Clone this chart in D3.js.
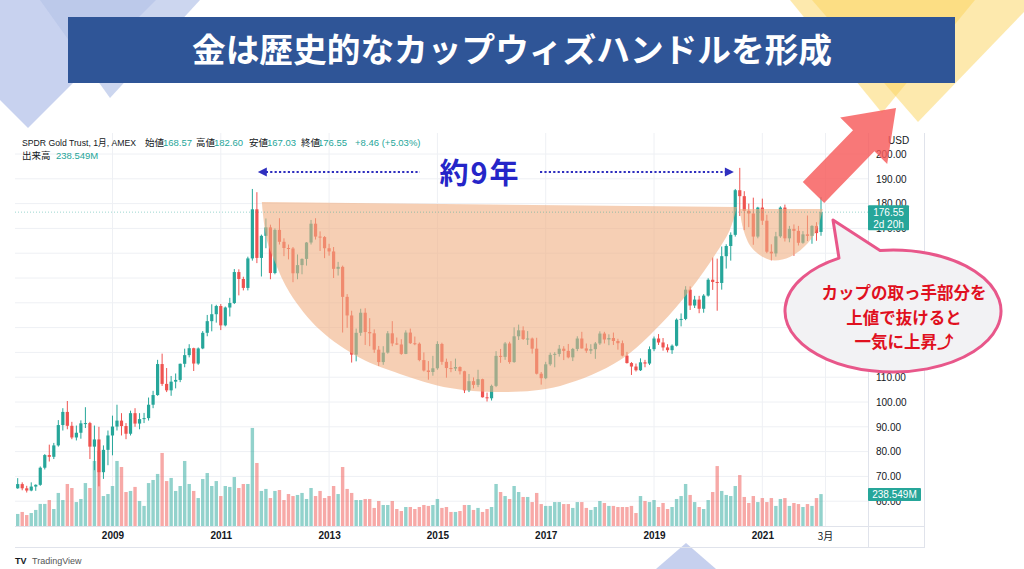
<!DOCTYPE html>
<html><head><meta charset="utf-8">
<script src="https://cdn.jsdelivr.net/npm/d3@7"></script>
<style>
body{margin:0;background:#fff;}
svg{display:block;font-family:"Noto Sans CJK JP","Noto Sans",sans-serif;}
</style></head>
<body><svg id="c" width="1024" height="569"></svg>
<script>
// ---- data (monthly GLD candles, Apr 2007 – Feb 2022) ----
const firstMonth = new Date(2007, 3, 1);
const opens = [65.2,66.9,65.2,64.3,65.9,66.6,73.5,78.6,77.9,82.5,90.7,96.0,90.4,85.7,87.6,91.4,91.5,82.0,84.9,71.7,80.7,86.5,90.1,92.5,90.3,87.2,95.5,91.3,93.1,93.5,98.9,102.8,115.3,107.3,104.7,108.2,108.9,115.4,118.9,121.7,115.5,121.6,127.9,132.6,135.4,138.7,130.9,138.1,139.9,152.4,149.6,146.0,157.9,177.7,158.1,167.0,170.4,152.0,169.4,164.6,162.1,161.9,151.9,155.2,157.7,164.3,171.9,166.7,166.5,162.0,160.7,153.7,154.5,142.4,134.9,119.1,127.9,136.0,128.2,127.7,121.1,116.1,119.9,127.7,123.6,123.2,119.4,128.0,123.7,123.5,116.9,112.7,112.1,113.6,123.4,116.2,113.7,113.5,114.1,112.4,104.7,108.4,106.9,109.2,101.9,101.5,106.5,118.6,118.2,123.6,116.1,126.5,128.9,125.4,125.6,121.5,111.4,109.6,115.2,119.0,119.4,121.5,120.6,118.0,121.4,125.6,121.6,120.7,121.3,123.6,127.6,125.2,125.8,124.6,123.7,118.7,115.7,114.3,112.8,116.0,115.5,121.3,125.6,124.0,122.0,120.9,122.7,133.2,133.5,145.3,138.9,141.3,137.6,142.9,149.3,148.4,148.0,158.8,162.9,167.4,185.4,183.0,177.1,176.0,166.7,178.4,173.1,160.6,159.9,166.8,178.4,166.0,169.8,169.0,164.2,167.6,167.0,171.0,168.57];
const highs = [69.3,67.6,66.2,67.6,66.8,74.0,79.0,82.8,83.5,92.7,97.5,100.4,92.0,90.5,92.6,97.9,92.0,90.5,90.0,82.5,88.5,94.5,98.9,95.5,91.5,96.5,97.5,95.5,95.6,101.8,104.5,117.0,119.5,113.7,110.5,111.5,115.5,121.5,123.3,121.9,122.0,128.6,135.1,139.4,139.2,139.5,138.5,142.0,153.6,153.5,150.5,158.6,185.9,184.6,167.5,174.0,171.5,170.0,174.1,166.0,163.5,162.5,159.5,157.9,164.5,173.4,174.1,168.8,166.9,163.8,162.5,156.5,155.0,143.5,136.8,129.6,137.6,137.8,133.8,129.3,122.6,122.5,128.6,132.6,126.0,125.3,128.9,129.6,126.4,124.0,120.0,116.5,118.6,124.5,123.9,117.5,116.5,117.5,114.4,112.6,111.3,109.9,113.0,109.4,103.8,107.0,120.5,121.4,124.2,124.3,130.1,131.2,130.5,128.6,126.0,125.9,112.1,116.2,119.9,120.1,123.0,122.5,123.4,121.8,126.5,128.3,123.6,123.3,124.2,128.5,128.3,127.3,128.0,125.5,124.8,120.2,116.1,115.5,117.6,117.0,122.4,126.4,127.4,125.8,123.3,123.2,133.7,135.7,146.7,146.6,142.8,142.8,143.5,149.9,158.3,157.8,162.7,163.6,168.4,185.9,194.4,185.0,180.0,182.4,178.7,182.0,175.5,163.6,168.6,178.9,179.6,171.0,171.6,171.0,168.9,175.2,171.3,172.5,182.60];
const lows = [65.0,64.4,63.5,64.0,64.2,66.2,72.8,76.0,77.0,82.0,88.5,89.0,85.0,84.5,85.2,89.5,77.0,72.5,66.0,69.0,74.5,78.5,88.5,86.5,85.0,86.5,90.0,89.0,91.5,92.5,97.5,102.5,106.5,104.0,102.5,105.5,108.0,114.0,118.0,112.5,115.0,121.3,126.5,128.5,132.0,129.0,130.5,134.5,139.5,143.0,145.0,145.0,157.0,156.0,150.6,162.0,149.5,151.5,163.5,158.8,157.5,148.3,149.5,151.5,155.0,163.5,165.5,160.9,158.0,159.0,150.0,151.0,128.0,129.9,115.9,116.4,126.7,123.0,122.5,119.8,114.5,115.0,119.5,122.5,123.0,119.0,119.3,123.4,122.9,116.4,112.3,109.0,110.6,113.0,115.0,109.8,112.0,112.5,111.1,103.6,104.0,105.5,106.0,101.8,100.2,100.6,106.0,115.8,117.0,115.4,115.8,125.0,125.0,123.0,119.5,111.1,107.0,109.2,114.6,114.0,118.3,116.9,117.6,116.5,120.5,121.5,119.8,119.4,117.4,123.0,123.6,122.9,123.0,121.1,118.4,115.5,110.9,112.3,112.5,114.0,114.9,120.5,123.0,120.7,120.0,119.4,122.4,130.5,133.0,137.1,137.9,135.8,136.0,142.5,145.2,136.8,145.3,153.8,157.0,166.7,175.0,169.3,170.5,163.4,166.0,171.4,160.0,157.1,158.6,166.2,164.7,164.4,158.9,163.1,163.8,164.9,163.8,165.0,167.03];
const closes = [66.9,65.2,64.3,65.9,66.6,73.5,78.6,77.9,82.5,90.7,96.0,90.4,85.7,87.6,91.4,91.5,82.0,84.9,71.7,80.7,86.5,90.1,92.5,90.3,87.2,95.5,91.3,93.1,93.5,98.9,102.8,115.3,107.3,104.7,108.2,108.9,115.4,118.9,121.7,115.5,121.6,127.9,132.6,135.4,138.7,130.9,138.1,139.9,152.4,149.6,146.0,157.9,177.7,158.1,167.0,170.4,152.0,169.4,164.6,162.1,161.9,151.9,155.2,157.7,164.3,171.9,166.7,166.5,162.0,160.7,153.7,154.5,142.4,134.9,119.1,127.9,136.0,128.2,127.7,121.1,116.1,119.9,127.7,123.6,123.2,119.4,128.0,123.7,123.5,116.9,112.7,112.1,113.6,123.4,116.2,113.7,113.5,114.1,112.4,104.7,108.4,106.9,109.2,101.9,101.5,106.5,118.6,118.2,123.6,116.1,126.5,128.9,125.4,125.6,121.5,111.4,109.6,115.2,119.0,119.4,121.5,120.6,118.0,121.4,125.6,121.6,120.7,121.3,123.6,127.6,125.2,125.8,124.6,123.7,118.7,115.7,114.3,112.8,116.0,115.5,121.3,125.6,124.0,122.0,120.9,122.7,133.2,133.5,145.3,138.9,141.3,137.6,142.9,149.3,148.4,148.0,158.8,162.9,167.4,185.4,183.0,177.1,176.0,166.7,178.4,173.1,160.6,159.9,166.8,178.4,166.0,169.8,169.0,164.2,167.6,167.0,171.0,168.1,176.55];
const volumesM = [90,105,82,97,120,165,165,194,127,247,194,314,284,179,202,321,284,486,561,224,239,299,486,441,254,262,292,187,150,321,344,389,546,336,359,262,299,486,314,262,209,351,396,299,336,224,299,292,366,284,314,314,733,471,262,277,209,262,269,194,239,224,232,247,202,284,224,262,209,224,299,239,441,277,247,194,194,202,202,135,187,157,157,187,127,112,142,142,127,142,157,150,157,202,135,142,105,105,112,157,157,120,135,105,127,142,314,254,224,202,299,254,217,217,179,247,164,150,150,179,179,164,164,135,179,179,135,120,142,187,172,150,150,142,142,142,150,97,224,187,179,194,142,172,127,142,202,224,314,232,179,142,127,194,254,448,262,232,224,299,381,217,172,224,179,209,179,209,150,202,209,150,172,164,142,164,150,209,238.549];
const yearLabels = [2009,2011,2013,2015,2017,2019,2021];
const gridPrices = [60,70,80,90,100,110,120,130,140,150,160,170,180,190,200];
const priceLabels = [60,70,80,90,100,110,170,180,190,200]; // 120–160 sit under the speech bubble
// cup & handle outline in (month index, price)
const cupIdx   = [54.1,55.2,57.0,60.3,67.0,75.9,84.7,95.8,106.9,120.2,133.5,142.3,149.0,154.5,157.8,159.4];
const cupPrice = [180.6,165.3,156.5,144.0,129.0,117.7,111.3,105.6,104.0,106.5,116.9,131.0,145.2,159.3,169.4,178.6];
const handleIdx   = [160.0,160.7,162.7,166.7,171.1,175.1,177.3,178.4];
const handlePrice = [177.8,170.2,162.1,157.3,158.5,164.1,170.6,177.8];

const months = d3.timeMonth.range(firstMonth, new Date(2022, 2, 1));
const data = months.map((m,i)=>({i, m, o:opens[i], h:highs[i], l:lows[i], c:closes[i], v:volumesM[i]}));

const UP="#26a69a", DN="#ef5350";
const svg = d3.select("#c");

// ---- background decorations ----
const bg = svg.append("g");
bg.append("polygon").attr("points","0,0 156,0 28,128 0,100").attr("fill","#c8d2ef");
bg.append("polygon").attr("points","40,0 200,0 110,98").attr("fill","#b6c4e8").attr("opacity",0.7);
bg.append("polygon").attr("points","790,0 975,0 882,113").attr("fill","#fbd35c").attr("opacity",0.5);
bg.append("polygon").attr("points","812,0 1024,0 1024,12 918,122").attr("fill","#fbd35c").attr("opacity",0.5);
bg.append("polygon").attr("points","686,543 716,569 656,569").attr("fill","#c6d0ee");

// ---- title banner ----
svg.append("rect").attr("x",68).attr("y",17).attr("width",887).attr("height",66).attr("fill","#2f5597");
svg.append("text").attr("x",512).attr("y",62).attr("text-anchor","middle")
  .attr("font-size",33).attr("font-weight",700).attr("fill","#fff")
  .attr("textLength",640).attr("lengthAdjust","spacingAndGlyphs")
  .text("金は歴史的なカップウィズハンドルを形成");

// ---- scales ----
const x = d3.scaleLinear().domain([0,178]).range([17.7,821]);
const y = d3.scaleLinear().domain([100,200]).range([402,154]);
const yv = d3.scaleLinear().domain([0,740]).range([526,427]);
const idxOfYear = yr => (yr-2007)*12 - 3;

// ---- grid ----
const grid = svg.append("g").attr("stroke","#eef0f4").attr("stroke-width",1);
gridPrices.forEach(t=>grid.append("line").attr("x1",15).attr("x2",868).attr("y1",y(t)).attr("y2",y(t)));
yearLabels.forEach(yr=>grid.append("line").attr("x1",x(idxOfYear(yr))).attr("x2",x(idxOfYear(yr))).attr("y1",133).attr("y2",526));
grid.append("line").attr("x1",x(179)).attr("x2",x(179)).attr("y1",133).attr("y2",526);

// ---- panel frame ----
const fr = svg.append("g").attr("stroke","#e0e3eb").attr("stroke-width",1).attr("fill","none");
fr.append("line").attr("x1",868.5).attr("x2",868.5).attr("y1",133).attr("y2",547);
fr.append("line").attr("x1",924.5).attr("x2",924.5).attr("y1",133).attr("y2",547);
fr.append("line").attr("x1",15).attr("x2",925).attr("y1",526.5).attr("y2",526.5);
fr.append("line").attr("x1",15).attr("x2",925).attr("y1",547.5).attr("y2",547.5);

// ---- volume ----
svg.append("g").selectAll("rect").data(data).join("rect")
  .attr("x",d=>x(d.i)-1.7).attr("width",3.4)
  .attr("y",d=>yv(d.v)).attr("height",d=>526-yv(d.v))
  .attr("fill",d=>d.c>=d.o?UP:DN).attr("opacity",0.5);

// ---- candles ----
const cg = svg.append("g");
cg.selectAll("line").data(data).join("line")
  .attr("x1",d=>x(d.i)).attr("x2",d=>x(d.i))
  .attr("y1",d=>y(d.h)).attr("y2",d=>y(d.l))
  .attr("stroke",d=>d.c>=d.o?UP:DN).attr("stroke-width",1);
cg.selectAll("rect").data(data).join("rect")
  .attr("x",d=>x(d.i)-1.6).attr("width",3.2)
  .attr("y",d=>y(Math.max(d.o,d.c)))
  .attr("height",d=>Math.max(1,Math.abs(y(d.o)-y(d.c))))
  .attr("fill",d=>d.c>=d.o?UP:DN);

// ---- cup & handle overlays ----
const shapeLine = d3.line().x(p=>x(p[0])).y(p=>y(p[1])).curve(d3.curveCatmullRom);
svg.append("path").attr("d",shapeLine(cupIdx.map((v,k)=>[v,cupPrice[k]]))+"Z")
  .attr("fill","#f0af82").attr("opacity",0.6);
svg.append("path").attr("d",shapeLine(handleIdx.map((v,k)=>[v,handlePrice[k]]))+"Z")
  .attr("fill","#f0af82").attr("opacity",0.6);

// ---- last price line ----
const last = data[data.length-1];
svg.append("line").attr("x1",15).attr("x2",868).attr("y1",y(last.c)).attr("y2",y(last.c))
  .attr("stroke",UP).attr("stroke-opacity",0.45).attr("stroke-dasharray","1,2");

// ---- axes ----
const ya = svg.append("g").attr("transform","translate(868,0)")
  .call(d3.axisRight(y).tickValues(priceLabels).tickFormat(d3.format(".2f")).tickSize(0).tickPadding(8));
ya.select(".domain").remove();
ya.selectAll("text").attr("font-family","Liberation Sans, Arial, sans-serif").attr("font-size",10).attr("fill","#131722");

const xa = svg.append("g").attr("transform","translate(0,527)")
  .call(d3.axisBottom(x).tickValues(yearLabels.map(idxOfYear)).tickFormat((d,k)=>String(yearLabels[k])).tickSize(0).tickPadding(5));
xa.select(".domain").remove();
xa.selectAll("text").attr("font-family","Liberation Sans, Arial, sans-serif").attr("font-size",10).attr("font-weight",700).attr("fill","#131722");
svg.append("text").attr("x",x(179)).attr("y",540).attr("text-anchor","middle")
  .attr("font-size",10).attr("fill","#131722").text("3月");

svg.append("text").attr("x",888).attr("y",144).attr("font-family","Liberation Sans, Arial, sans-serif")
  .attr("font-size",10).attr("fill","#131722").text("USD");

// ---- price / volume badges ----
svg.append("rect").attr("x",868).attr("y",y(last.c)-7).attr("width",41).attr("height",25).attr("fill",UP).attr("rx",1);
svg.append("text").attr("x",888.5).attr("y",y(last.c)+3.5).attr("text-anchor","middle").attr("fill","#fff")
  .attr("font-family","Liberation Sans, Arial, sans-serif").attr("font-size",10).text(d3.format(".2f")(last.c));
svg.append("text").attr("x",888.5).attr("y",y(last.c)+15.5).attr("text-anchor","middle").attr("fill","#fff")
  .attr("font-family","Liberation Sans, Arial, sans-serif").attr("font-size",10).text("2d 20h");
svg.append("rect").attr("x",868).attr("y",yv(last.v)-6).attr("width",53).attr("height",13).attr("fill",UP).attr("rx",1);
svg.append("text").attr("x",894.5).attr("y",yv(last.v)+4).attr("text-anchor","middle").attr("fill","#fff")
  .attr("font-family","Liberation Sans, Arial, sans-serif").attr("font-size",10).text(last.v+"M");

// ---- legend header ----
const hdr = [
  [22,146,"SPDR Gold Trust, 1月, AMEX","#131722",114],
  [145,146,"始値","#131722",0],[163,146,d3.format(".2f")(last.o),UP,0],
  [196,146,"高値","#131722",0],[214,146,d3.format(".2f")(last.h),UP,0],
  [249,146,"安値","#131722",0],[267,146,d3.format(".2f")(last.l),UP,0],
  [301,146,"終値","#131722",0],[318,146,d3.format(".2f")(last.c),UP,0],
  [355,146,"+8.46 (+5.03%)",UP,0],
  [22,159,"出来高","#131722",0],[56,159,last.v+"M",UP,0]
];
const ht = svg.append("g").selectAll("text").data(hdr).join("text")
  .attr("x",d=>d[0]).attr("y",d=>d[1]).attr("fill",d=>d[3])
  .attr("font-family","Liberation Sans, 'Noto Sans CJK JP', sans-serif").attr("font-size",9.5).text(d=>d[2]);
ht.filter(d=>d[4]>0).attr("textLength",d=>d[4]).attr("lengthAdjust","spacingAndGlyphs");

// ---- 約9年 annotation ----
const AC="#2f2fbf", ay=172;
const ann = svg.append("g");
ann.append("line").attr("x1",x(53.2)+8).attr("x2",420).attr("y1",ay).attr("y2",ay)
  .attr("stroke",AC).attr("stroke-width",2.2).attr("stroke-dasharray","2.2,2.2");
ann.append("line").attr("x1",540).attr("x2",x(158.7)-8).attr("y1",ay).attr("y2",ay)
  .attr("stroke",AC).attr("stroke-width",2.2).attr("stroke-dasharray","2.2,2.2");
ann.append("polygon").attr("points",`${x(53.2)},${ay} ${x(53.2)+9},${ay-4.5} ${x(53.2)+9},${ay+4.5}`).attr("fill",AC);
ann.append("polygon").attr("points",`${x(158.7)},${ay} ${x(158.7)-9},${ay-4.5} ${x(158.7)-9},${ay+4.5}`).attr("fill",AC);
ann.append("text").attr("x",480).attr("y",184).attr("text-anchor","middle").attr("font-size",29)
  .attr("font-weight",700).attr("letter-spacing",2).attr("fill","#2525c8").text("約9年");

// ---- big arrow ----
svg.append("polygon")
  .attr("points","802.8,182 853,130.2 840.2,117.5 896,108 887.2,163.9 874.4,151.2 824.2,203")
  .attr("fill","#f65a5a").attr("opacity",0.82);

// ---- speech bubble ----
const cx=893, cy=311, rx=108, ry=61;
const A=[cx-0.5*rx, cy-0.866*ry], B=[cx-0.12*rx, cy-Math.sqrt(1-0.0144)*ry];
svg.append("path")
  .attr("d",`M${A[0]},${A[1]} L833,220 L${B[0]},${B[1]} A${rx},${ry} 0 1 1 ${A[0]},${A[1]} Z`)
  .attr("fill","#f2f2f4").attr("stroke","#e8578a").attr("stroke-width",3).attr("stroke-linejoin","round");
const bl = ["カップの取っ手部分を","上値で抜けると","一気に上昇⤴"];
svg.append("g").selectAll("text").data(bl).join("text")
  .attr("x",904).attr("y",(d,k)=>299+k*24.5).attr("text-anchor","middle")
  .attr("font-size",16.5).attr("font-weight",700).attr("fill","#e0101e").text(d=>d);

// ---- TradingView mark ----
svg.append("text").attr("x",15).attr("y",564).attr("font-size",9).attr("font-weight",700).attr("fill","#131722")
  .attr("font-family","Liberation Sans, Arial, sans-serif").text("TV");
svg.append("text").attr("x",32).attr("y",564).attr("font-size",9).attr("fill","#555")
  .attr("font-family","Liberation Sans, Arial, sans-serif").text("TradingView");
</script></body></html>
